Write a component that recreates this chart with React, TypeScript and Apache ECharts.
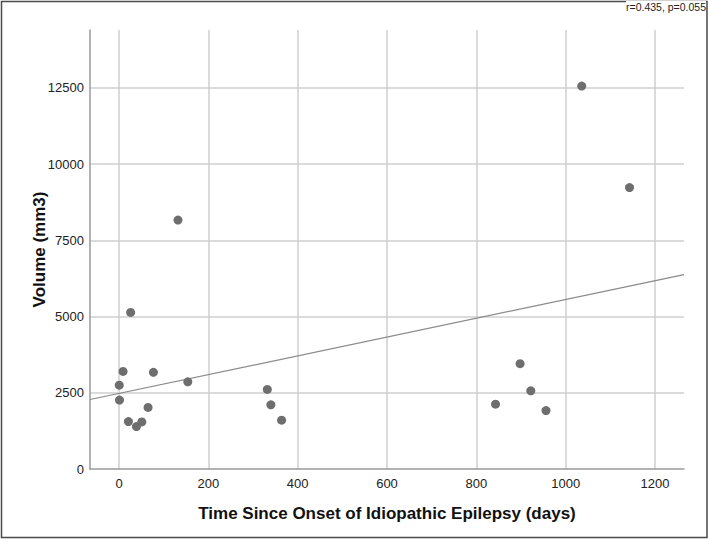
import React, { useEffect, useRef } from "react";
import * as echarts from "echarts";

const daysSinceOnset: number[] = [132, 26, 9, 77, 0.5, 154, 1, 65, 21, 51, 39, 332, 340, 364, 1036, 1143, 898, 922, 843, 956];
const volumeMm3: number[] = [8165, 5135, 3200, 3170, 2750, 2860, 2260, 2020, 1555, 1545, 1390, 2610, 2105, 1600, 12560, 9230, 3455, 2565, 2125, 1915];
const fitIntercept = [2480];
const fitSlope = [3.08];
const xRange = [-65, 1265];
const yRange = [0, 14400];
const statText = "r=0.435, p=0.055";
const xTitle = "Time Since Onset of Idiopathic Epilepsy (days)";
const yTitle = "Volume (mm3)";

export default function App() {
  const ref = useRef<HTMLDivElement>(null);
  useEffect(() => {
    if (!ref.current) return;
    const chart = echarts.init(ref.current, undefined, { renderer: "svg" });
    const pts = daysSinceOnset.map((d, i) => [d, volumeMm3[i]]);
    const fitLine = xRange.map((x) => [x, fitIntercept[0] + fitSlope[0] * x]);
    const font = "'Liberation Sans', Arial, sans-serif";
    chart.setOption({
      animation: false,
      backgroundColor: "#ffffff",
      textStyle: { fontFamily: font },
      grid: { left: 90, right: 25, top: 30, bottom: 71, containLabel: false },
      xAxis: {
        type: "value",
        min: xRange[0],
        max: xRange[1],
        minInterval: 200,
        maxInterval: 200,
        name: xTitle,
        nameLocation: "middle",
        nameGap: 36,
        nameMoveOverlap: false,
        nameTextStyle: { fontSize: 17, fontWeight: "bold", color: "#111", fontFamily: font },
        axisLine: { show: true, onZero: false, lineStyle: { color: "#9a9a9a", width: 1.5 } },
        axisTick: { show: false },
        axisLabel: { fontSize: 13, color: "#222", margin: 8, showMinLabel: false, showMaxLabel: false, fontFamily: font, formatter: (v: number) => String(v) },
        splitLine: { show: true, showMinLine: false, showMaxLine: false, lineStyle: { color: "#cfcfcf", width: 1.5 } },
      },
      yAxis: {
        type: "value",
        min: yRange[0],
        max: yRange[1],
        interval: 2500,
        name: yTitle,
        nameLocation: "middle",
        nameGap: 42,
        nameMoveOverlap: false,
        nameTextStyle: { fontSize: 17, fontWeight: "bold", color: "#111", fontFamily: font },
        axisLine: { show: true, onZero: false, lineStyle: { color: "#9a9a9a", width: 1.5 } },
        axisTick: { show: false },
        axisLabel: { fontSize: 13, color: "#222", margin: 6, showMaxLabel: false, fontFamily: font, formatter: (v: number) => String(v) },
        splitLine: { show: true, showMinLine: false, showMaxLine: false, lineStyle: { color: "#cfcfcf", width: 1.5 } },
      },
      series: [
        {
          type: "line",
          data: fitLine,
          showSymbol: false,
          symbol: "none",
          lineStyle: { color: "#8a8a8a", width: 1.2 },
          z: 3,
          silent: true,
        },
        {
          type: "scatter",
          data: pts,
          symbol: "circle",
          symbolSize: 9,
          itemStyle: { color: "#6e6e6e", opacity: 1 },
          z: 4,
        },
      ],
      graphic: [
        {
          type: "rect",
          shape: { x: 1.5, y: 1.5, width: 705.5, height: 536 },
          style: { fill: "none", stroke: "#4a4a4a", lineWidth: 1.5 },
          z: 10,
        },
        {
          type: "text",
          right: 3,
          top: 1,
          style: { text: statText, fontSize: 10.5, fill: "#222", fontFamily: font, backgroundColor: "#ffffff" },
          z: 11,
        },
      ],
    });
    return () => chart.dispose();
  }, []);
  return <div ref={ref} style={{ position: "fixed", left: 0, top: 0, width: 709, height: 540 }} />;
}
